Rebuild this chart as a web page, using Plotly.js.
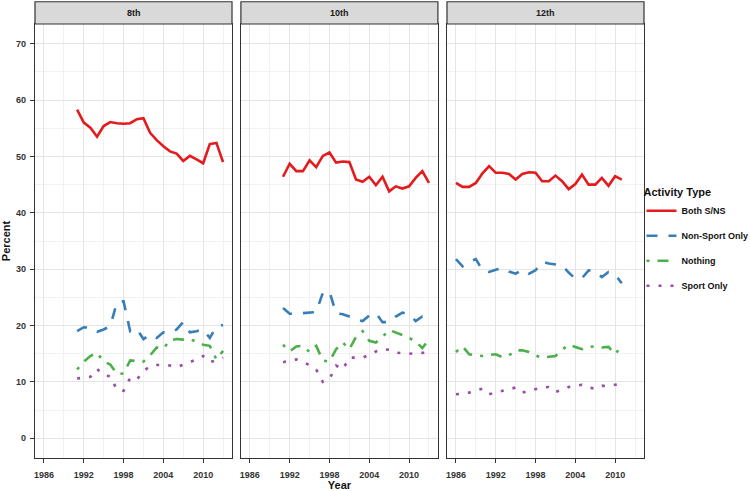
<!DOCTYPE html>
<html>
<head>
<meta charset="utf-8">
<script src="https://cdn.plot.ly/plotly-3.0.1.min.js"></script>
<style>
  html, body { margin: 0; padding: 0; background: #fff; }
  #chart { width: 750px; height: 491px; }
</style>
</head>
<body>
<div id="chart"></div>
<script>
// grades shown as facets
const grades = ['8th', '10th', '12th'];
const activityTypes = ['Both S/NS', 'Non-Sport Only', 'Nothing', 'Sport Only'];

// survey years
const years_8 = [1991,1992,1993,1994,1995,1996,1997,1998,1999,2000,2001,2002,2003,2004,2005,2006,2007,2008,2009,2010,2011,2012,2013];
const years_10 = [1991,1992,1993,1994,1995,1996,1997,1998,1999,2000,2001,2002,2003,2004,2005,2006,2007,2008,2009,2010,2011,2012,2013];
const years_12 = [1986,1987,1988,1989,1990,1991,1992,1993,1994,1995,1996,1997,1998,1999,2000,2001,2002,2003,2004,2005,2006,2007,2008,2009,2010,2011];

// 8th grade
const both_8     = [58.3,56.0,55.1,53.5,55.4,56.1,55.9,55.8,55.9,56.6,56.8,54.2,52.9,51.8,50.9,50.5,49.2,50.1,49.5,48.8,52.2,52.4,49.0];
const nonSport_8 = [19.0,19.7,19.6,18.9,19.3,19.9,24.1,24.3,19.0,19.4,17.6,18.4,17.8,18.8,18.7,19.3,20.6,18.8,19.0,19.3,17.8,19.8,20.1];
const nothing_8  = [12.2,13.6,14.6,15.2,13.6,13.1,11.4,11.5,13.8,13.7,13.6,14.7,16.1,15.9,17.4,17.6,17.5,17.6,17.1,16.6,16.4,14.0,15.5];
const sport_8    = [10.6,10.8,10.9,12.3,11.2,11.0,8.6,8.4,10.7,10.4,11.9,12.8,13.0,13.0,12.9,12.6,13.0,13.5,14.0,14.6,13.5,13.8,14.3];

// 10th grade
const both_10     = [46.4,48.7,47.4,47.4,49.3,48.1,50.1,50.7,48.9,49.1,49.0,45.9,45.5,46.4,44.9,46.4,43.8,44.7,44.3,44.7,46.2,47.4,45.3];
const nonSport_10 = [23.1,22.1,22.1,22.2,22.3,22.4,25.8,26.0,22.2,22.0,21.6,21.0,20.8,21.8,22.2,20.6,20.6,21.6,22.3,22.0,20.8,21.6,21.2];
const nothing_10  = [16.6,15.4,16.3,16.4,15.3,16.4,13.8,13.6,15.8,17.0,15.8,18.0,19.0,17.3,17.0,18.0,19.2,18.8,18.3,17.8,17.2,16.0,17.5];
const sport_10    = [13.5,13.7,14.0,13.5,13.0,12.2,10.0,10.5,12.9,12.2,14.3,14.3,14.3,14.8,15.4,15.8,15.7,15.2,15.1,15.0,15.1,15.1,15.2];

// 12th grade
const both_12     = [45.3,44.6,44.6,45.3,47.0,48.3,47.1,47.1,46.9,45.9,46.9,47.2,47.1,45.6,45.6,46.6,45.6,44.2,45.1,46.8,45.0,45.0,46.2,44.8,46.5,45.9];
const nonSport_12 = [31.8,30.5,31.3,31.8,29.8,29.5,29.9,30.2,29.6,29.2,29.9,29.2,29.8,31.3,31.0,30.9,30.7,29.4,28.3,28.4,29.8,29.6,28.6,29.5,29.0,27.5];
const nothing_12  = [15.3,16.3,14.9,14.7,14.6,14.8,14.9,14.4,14.7,15.6,15.6,15.3,14.7,14.3,14.4,14.6,15.7,16.6,16.2,15.8,16.2,16.3,16.1,16.2,14.9,16.5];
const sport_12    = [7.8,8.0,8.1,8.5,8.8,7.8,8.1,8.4,8.8,9.0,8.1,8.4,8.6,9.0,9.1,8.2,8.6,9.1,9.3,9.5,9.0,8.8,9.3,9.3,9.5,9.6];

const colors = ['#E41A1C', '#377EB8', '#4DAF4A', '#984EA3'];
const dashes = ['solid', '11px,11px', '3px,8px,11px,8px', '3px,9px'];

const panels = [
    {x: years_8,  ys: [both_8, nonSport_8, nothing_8, sport_8],     xa: 'x',  ya: 'y'},
    {x: years_10, ys: [both_10, nonSport_10, nothing_10, sport_10], xa: 'x2', ya: 'y2'},
    {x: years_12, ys: [both_12, nonSport_12, nothing_12, sport_12], xa: 'x3', ya: 'y3'}
];

const FONT = 'Liberation Sans, Arial, sans-serif';
const DARK = '#333333';

let traces = [];
panels.forEach((p, pi) => {
    p.ys.forEach((y, i) => {
        traces.push({
            x: p.x,
            y: y,
            xaxis: p.xa,
            yaxis: p.ya,
            type: 'scatter',
            mode: 'lines',
            name: activityTypes[i],
            legendgroup: activityTypes[i],
            showlegend: pi === 0,
            line: {color: colors[i], width: 2.6, dash: dashes[i]},
            hoverinfo: 'x+y+name'
        });
    });
});

const domains = [[0, 0.3235], [0.3381, 0.6616], [0.6765, 1]];

const xBase = () => ({
    range: [1984.65, 2014.35],
    tick0: 1986, dtick: 6,
    ticks: 'outside', ticklen: 4, tickwidth: 1, tickcolor: DARK,
    ticklabelstandoff: 4,
    tickfont: {family: FONT, size: 9, color: DARK, weight: 'bold'},
    showgrid: true, gridcolor: '#e5e5e5', gridwidth: 1,
    minor: {dtick: 3, showgrid: true, gridcolor: '#efefef', gridwidth: 0.8},
    showline: true, mirror: true, linecolor: DARK, linewidth: 1.2,
    zeroline: false, fixedrange: true
});
const yBase = () => ({
    range: [-3.5, 73.5],
    tick0: 0, dtick: 10,
    showgrid: true, gridcolor: '#e5e5e5', gridwidth: 1,
    minor: {dtick: 5, showgrid: true, gridcolor: '#efefef', gridwidth: 0.8},
    showline: true, mirror: true, linecolor: DARK, linewidth: 1.2,
    zeroline: false, fixedrange: true
});

let layout = {
    width: 750,
    height: 491,
    margin: {l: 35, r: 106, t: 24, b: 33, autoexpand: false},
    paper_bgcolor: '#ffffff',
    plot_bgcolor: '#ffffff',
    font: {family: FONT, color: DARK},
    showlegend: true,
    legend: {
        x: 0.9959, xanchor: 'left',
        y: 0.636, yanchor: 'top',
        traceorder: 'grouped',
        tracegroupgap: 6,
        title: {text: 'Activity Type', font: {family: FONT, size: 11, color: '#111', weight: 'bold'}},
        font: {family: FONT, size: 9, color: '#111', weight: 'bold'},
        bgcolor: 'rgba(0,0,0,0)'
    },
    shapes: [],
    annotations: []
};

['xaxis', 'xaxis2', 'xaxis3'].forEach((k, i) => {
    layout[k] = Object.assign(xBase(), {domain: domains[i], anchor: i === 0 ? 'y' : 'y' + (i + 1)});
});
layout.xaxis2.title = {text: 'Year', font: {family: FONT, size: 11, color: '#111', weight: 'bold'}, standoff: 5};

layout.yaxis = Object.assign(yBase(), {
    anchor: 'x',
    ticks: 'outside', ticklen: 4, tickwidth: 1, tickcolor: DARK,
    ticklabelstandoff: 2,
    tickfont: {family: FONT, size: 9, color: DARK, weight: 'bold'},
    title: {text: 'Percent', font: {family: FONT, size: 11, color: '#111', weight: 'bold'}, standoff: 4}
});
layout.yaxis2 = Object.assign(yBase(), {anchor: 'x2', matches: 'y', showticklabels: false, ticks: ''});
layout.yaxis3 = Object.assign(yBase(), {anchor: 'x3', matches: 'y', showticklabels: false, ticks: ''});

// facet strips
grades.forEach((g, i) => {
    layout.shapes.push({
        type: 'rect', xref: 'paper', yref: 'paper',
        x0: domains[i][0], x1: domains[i][1], y0: 1, y1: 1.0513,
        fillcolor: '#d9d9d9', line: {color: DARK, width: 1.2}, layer: 'above'
    });
    layout.annotations.push({
        text: g, xref: 'paper', yref: 'paper',
        x: (domains[i][0] + domains[i][1]) / 2, y: 1.0257,
        xanchor: 'center', yanchor: 'middle', showarrow: false,
        font: {family: FONT, size: 9, color: '#1a1a1a', weight: 'bold'}
    });
});

Plotly.newPlot('chart', traces, layout, {displayModeBar: false, staticPlot: true});
</script>
</body>
</html>
